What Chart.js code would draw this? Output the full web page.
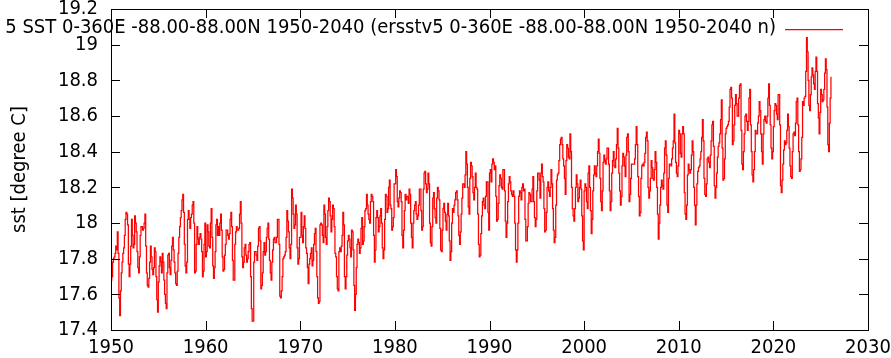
<!DOCTYPE html>
<html>
<head>
<meta charset="utf-8">
<script src="https://cdn.jsdelivr.net/npm/chart.js@4.4.1/dist/chart.umd.min.js"></script>
<style>
  html, body { margin: 0; padding: 0; background: #ffffff; }
  #wrap { width: 891px; height: 358px; position: relative; }
</style>
</head>
<body>
<div id="wrap"><canvas id="c" width="891" height="358"></canvas></div>
<script>
// ---- data (monthly, starting January 1950) ----
const startYear = 1950;
const sst1950s = [
  17.68,17.70,17.78,17.80,17.81,17.83,17.87,17.85,17.95,17.83,17.58,17.48,
  17.62,17.72,17.78,17.83,17.86,17.93,18.02,18.06,18.05,17.99,17.77,17.70,
  17.77,17.87,18.02,17.93,17.86,17.88,18.04,18.00,17.95,17.84,17.75,17.72,
  17.81,17.93,17.98,17.98,17.96,17.97,18.00,18.05,17.87,17.72,17.65,17.64,
  17.69,17.78,17.87,17.81,17.74,17.71,17.75,17.86,17.84,17.70,17.57,17.50,
  17.67,17.76,17.81,17.78,17.72,17.83,17.78,17.68,17.60,17.55,17.52,17.72,
  17.82,17.83,17.75,17.71,17.79,17.87,17.92,17.85,17.78,17.72,17.66,17.65,
  17.73,17.83,17.92,17.98,18.03,18.07,18.13,18.16,18.06,17.88,17.76,17.72,
  17.78,18.02,18.07,18.02,17.97,18.03,18.05,18.10,18.12,18.00,17.72,17.73,
  17.88,17.98,17.91,17.88,17.92,17.94,17.91,17.84,17.70,17.73,17.88,18.00
];
const sst1960s = [
  17.81,17.84,17.99,17.95,17.87,17.86,18.00,18.08,17.92,17.76,17.69,17.75,
  17.84,17.99,18.02,17.93,17.98,17.93,18.00,18.05,17.96,17.81,17.73,17.74,
  17.82,17.88,17.96,17.96,17.93,17.91,17.94,18.02,18.06,17.98,17.79,17.68,
  17.68,17.88,17.95,17.98,17.96,17.96,17.97,18.05,18.12,18.00,17.81,17.75,
  17.78,17.86,17.88,17.82,17.78,17.80,17.84,17.88,17.89,17.70,17.52,17.45,
  17.45,17.78,17.84,17.84,17.82,17.79,17.87,17.97,17.98,17.90,17.63,17.65,
  17.72,17.84,17.89,17.82,17.84,17.92,17.97,18.00,17.91,17.79,17.72,17.68,
  17.78,17.85,17.91,17.92,17.89,17.89,17.92,18.02,18.02,17.88,17.59,17.58,
  17.62,17.70,17.80,17.81,17.82,17.84,17.92,18.07,18.01,17.95,17.86,17.80,
  17.88,18.19,18.14,18.05,17.97,17.99,18.10,18.05,17.86,17.77,17.80,17.92
];
const sst1970s = [
  17.92,18.06,17.93,17.89,17.98,18.04,17.97,17.86,17.83,17.75,17.66,17.77,
  17.80,17.83,17.86,17.76,17.79,17.88,17.94,17.97,17.84,17.70,17.58,17.55,
  17.56,17.99,18.00,17.99,17.93,17.89,18.10,18.05,17.92,17.88,17.98,18.07,
  18.14,18.12,18.04,17.95,18.02,18.10,18.08,17.98,17.83,17.81,17.70,17.63,
  17.62,17.84,17.86,17.84,17.87,17.93,18.06,17.99,17.70,17.63,17.70,17.82,
  17.90,17.93,17.91,17.86,17.81,17.96,17.95,17.85,17.65,17.51,17.60,17.75,
  17.88,17.91,17.89,17.83,17.86,17.97,18.03,17.88,17.90,17.98,18.07,18.08,
  18.16,18.10,18.05,18.02,18.00,18.12,18.16,18.15,18.12,17.93,17.78,17.85,
  18.03,18.07,18.03,17.95,17.98,18.04,18.08,18.00,17.86,17.80,17.85,18.02,
  18.16,18.15,18.06,18.08,18.20,18.24,18.10,18.08,17.96,17.98,18.03,18.22
];
const sst1980s = [
  18.22,18.30,18.26,18.12,18.09,18.14,18.18,18.17,18.12,17.93,17.86,17.96,
  18.07,18.16,18.13,18.15,18.15,18.11,18.19,18.16,18.00,17.92,17.86,18.00,
  18.07,18.10,18.12,18.05,18.02,18.04,18.10,18.19,18.19,18.07,17.96,17.98,
  18.19,18.28,18.29,18.22,18.17,18.19,18.28,18.22,18.00,17.89,17.87,17.98,
  18.14,18.17,18.08,18.03,18.00,18.14,18.20,18.18,18.13,17.97,17.85,17.84,
  17.96,18.08,18.11,18.06,18.01,17.96,18.05,18.11,18.04,17.90,17.79,17.84,
  18.00,18.08,18.06,18.10,18.13,18.17,18.18,18.13,18.04,17.93,17.88,17.95,
  18.05,18.14,18.22,18.22,18.20,18.27,18.40,18.33,18.20,18.09,18.05,18.25,
  18.34,18.32,18.26,18.17,18.13,18.20,18.28,18.20,18.19,18.05,17.88,17.81,
  17.82,17.94,18.04,18.12,18.14,18.10,18.08,18.15,18.23,18.23,18.06,17.96
];
const sst1990s = [
  18.28,18.30,18.23,18.33,18.36,18.34,18.30,18.32,18.15,18.01,18.02,18.11,
  18.21,18.27,18.25,18.20,18.19,18.30,18.30,18.18,18.01,17.92,18.00,18.12,
  18.22,18.26,18.23,18.18,18.16,18.15,18.18,18.15,18.00,17.85,17.78,17.85,
  18.00,18.15,18.18,18.17,18.13,18.20,18.22,18.18,18.19,18.02,17.90,17.90,
  17.98,18.11,18.17,18.16,18.12,18.12,18.19,18.26,18.12,18.03,17.98,18.02,
  18.18,18.28,18.28,18.24,18.14,18.28,18.33,18.26,18.23,18.08,17.95,17.96,
  18.06,18.20,18.23,18.18,18.15,18.20,18.30,18.22,18.08,17.96,17.89,17.92,
  18.10,18.24,18.27,18.28,18.35,18.44,18.47,18.48,18.44,18.36,18.32,18.25,
  18.16,18.35,18.44,18.42,18.37,18.36,18.50,18.40,18.20,18.08,18.04,18.01,
  18.08,18.20,18.27,18.22,18.12,18.14,18.20,18.24,18.19,18.04,17.90,17.85
];
const sst2000s = [
  18.18,18.22,18.20,18.12,18.08,18.28,18.32,18.20,18.07,17.94,18.02,18.18,
  18.27,18.32,18.28,18.26,18.32,18.40,18.47,18.39,18.25,18.12,18.07,18.18,
  18.34,18.38,18.35,18.33,18.36,18.42,18.42,18.33,18.18,18.07,18.12,18.28,
  18.35,18.40,18.32,18.31,18.36,18.44,18.53,18.42,18.28,18.18,18.10,18.15,
  18.32,18.39,18.37,18.32,18.26,18.38,18.48,18.50,18.40,18.12,18.16,18.25,
  18.33,18.33,18.33,18.33,18.36,18.44,18.54,18.44,18.26,18.15,18.04,18.06,
  18.25,18.32,18.33,18.32,18.34,18.39,18.48,18.51,18.46,18.20,18.14,18.18,
  18.25,18.35,18.31,18.25,18.24,18.30,18.40,18.34,18.20,18.05,17.91,18.00,
  18.10,18.20,18.24,18.21,18.19,18.28,18.42,18.46,18.38,18.10,18.06,18.25,
  18.33,18.33,18.32,18.36,18.42,18.46,18.61,18.45,18.34,18.28,18.26,18.32
];
const sst2010s = [
  18.52,18.50,18.39,18.37,18.50,18.54,18.50,18.17,18.05,18.02,18.10,18.27,
  18.33,18.30,18.28,18.30,18.38,18.46,18.40,18.20,18.10,17.99,18.10,18.22,
  18.29,18.31,18.32,18.36,18.40,18.48,18.58,18.46,18.25,18.16,18.15,18.22,
  18.36,18.37,18.34,18.31,18.38,18.46,18.55,18.57,18.43,18.21,18.14,18.20,
  18.28,18.37,18.43,18.45,18.50,18.58,18.69,18.42,18.24,18.25,18.36,18.50,
  18.53,18.54,18.55,18.57,18.65,18.75,18.76,18.70,18.44,18.46,18.55,18.66,
  18.72,18.67,18.60,18.60,18.70,18.77,18.78,18.52,18.33,18.30,18.40,18.50,
  18.60,18.61,18.57,18.52,18.57,18.70,18.75,18.55,18.40,18.27,18.23,18.30,
  18.40,18.52,18.50,18.50,18.56,18.60,18.68,18.63,18.50,18.40,18.33,18.50,
  18.58,18.60,18.57,18.56,18.60,18.70,18.78,18.66,18.55,18.42,18.36,18.40
];
const sst2020s = [
  18.54,18.63,18.67,18.66,18.61,18.58,18.72,18.72,18.55,18.21,18.17,18.24,
  18.33,18.41,18.46,18.44,18.45,18.52,18.61,18.54,18.42,18.32,18.26,18.25,
  18.40,18.50,18.51,18.49,18.56,18.68,18.70,18.55,18.40,18.29,18.30,18.36,
  18.48,18.68,18.66,18.70,18.71,18.85,19.04,18.96,18.80,18.66,18.63,18.72,
  18.82,18.87,18.83,18.78,18.75,18.85,18.93,18.85,18.67,18.59,18.50,18.62,
  18.75,18.72,18.68,18.69,18.75,18.84,18.92,18.86,18.65,18.44,18.40,18.56,
  18.70,18.82
];
const xTickValues = [1950, 1960, 1970, 1980, 1990, 2000, 2010, 2020, 2030];
const yTickValues = [17.4, 17.6, 17.8, 18.0, 18.2, 18.4, 18.6, 18.8, 19.0, 19.2];
const seriesLabel = '5 SST 0-360E -88.00-88.00N 1950-2040 (ersstv5 0-360E -88.00-88.00N 1950-2040 n)';
const yTitle = 'sst [degree C]';

// ---- build points ----
const allValues = [].concat(sst1950s, sst1960s, sst1970s, sst1980s, sst1990s, sst2000s, sst2010s, sst2020s);
const points = allValues.map((v, i) => ({ x: startYear + i / 12, y: v }));

const FONT_FAMILY = "'DejaVu Sans Condensed', 'DejaVu Sans', sans-serif";
Chart.defaults.font.family = FONT_FAMILY;
Chart.defaults.font.size = 20;
Chart.defaults.color = '#000000';

const framePlugin = {
  id: 'gnuframe',
  afterDatasetsDraw(chart) {
    const { ctx, chartArea: a, scales } = chart;
    const xs = scales.x, ys = scales.y;
    ctx.save();
    ctx.strokeStyle = '#000000';
    ctx.lineWidth = 1;
    ctx.beginPath();
    xTickValues.forEach(v => {
      const px = Math.round(xs.getPixelForValue(v)) + 0.5;
      ctx.moveTo(px, a.bottom); ctx.lineTo(px, a.bottom - 9);
      ctx.moveTo(px, a.top); ctx.lineTo(px, a.top + 9);
    });
    yTickValues.forEach(v => {
      const py = Math.round(ys.getPixelForValue(v)) + 0.5;
      ctx.moveTo(a.left, py); ctx.lineTo(a.left + 9, py);
      ctx.moveTo(a.right, py); ctx.lineTo(a.right - 9, py);
    });
    ctx.stroke();
    ctx.strokeRect(Math.round(a.left) + 0.5, Math.round(a.top) + 0.5,
                   Math.round(a.right - a.left), Math.round(a.bottom - a.top));
    // key (legend) in gnuplot style
    ctx.font = '20px ' + FONT_FAMILY;
    ctx.fillStyle = '#000000';
    ctx.textAlign = 'right';
    ctx.textBaseline = 'middle';
    ctx.fillText(seriesLabel, 776, 28);
    ctx.strokeStyle = '#ff0000';
    ctx.lineWidth = 1.25;
    ctx.beginPath();
    ctx.moveTo(785, 29.5); ctx.lineTo(843, 29.5);
    ctx.stroke();
    ctx.restore();
  }
};

new Chart(document.getElementById('c'), {
  type: 'line',
  data: {
    datasets: [{
      label: seriesLabel,
      data: points,
      borderColor: '#ff0000',
      backgroundColor: '#ff0000',
      borderWidth: 1.25,
      pointRadius: 0,
      stepped: 'before',
      fill: false
    }]
  },
  options: {
    responsive: false,
    animation: false,
    devicePixelRatio: 1,
    layout: { padding: { left: 0, right: 23, top: 9, bottom: 0 } },
    plugins: { legend: { display: false }, tooltip: { enabled: false } },
    scales: {
      x: {
        type: 'linear',
        min: 1950, max: 2030,
        grid: { display: false, drawTicks: false },
        border: { display: false },
        afterBuildTicks: s => { s.ticks = xTickValues.map(v => ({ value: v })); },
        ticks: { padding: 6, maxRotation: 0, autoSkip: false, callback: v => String(v) },
        afterFit: s => { s.height = 28; s.paddingLeft = 0; s.paddingRight = 0; }
      },
      y: {
        type: 'linear',
        min: 17.4, max: 19.2,
        grid: { display: false, drawTicks: false },
        border: { display: false },
        afterBuildTicks: s => { s.ticks = yTickValues.map(v => ({ value: v })); },
        ticks: { padding: 13, autoSkip: false, callback: v => String(Number(Number(v).toFixed(1))) },
        title: { display: true, text: yTitle, padding: { top: 8, bottom: 0 } },
        afterFit: s => { s.width = 111; s.paddingTop = 0; s.paddingBottom = 0; }
      }
    }
  },
  plugins: [framePlugin]
});
</script>
</body>
</html>
